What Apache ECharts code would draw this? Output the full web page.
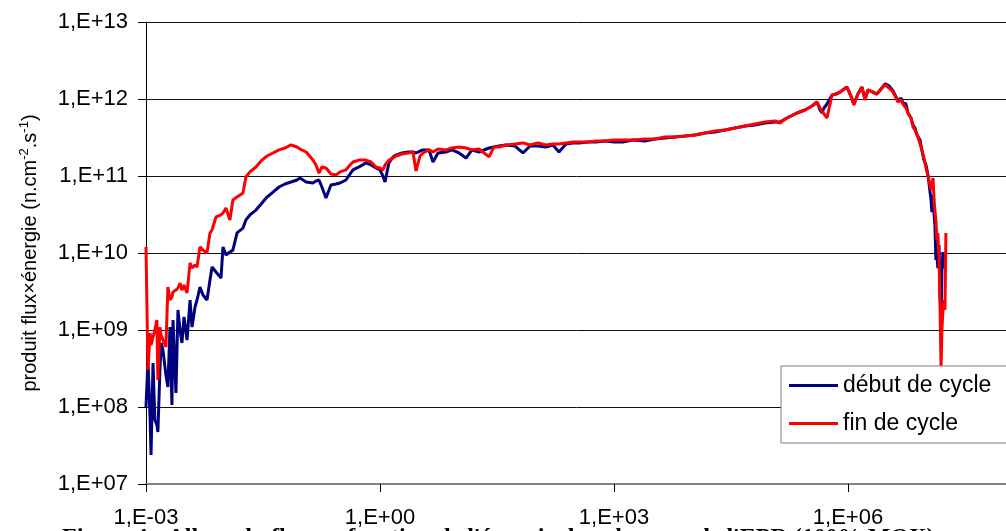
<!DOCTYPE html>
<html>
<head>
<meta charset="utf-8">
<script src="https://cdn.jsdelivr.net/npm/echarts@6/dist/echarts.min.js"></script>
<style>
html,body{margin:0;padding:0;background:#fff;}
#chart{width:1006px;height:531px;}
</style>
</head>
<body>
<div id="chart"></div>
<script>
// Energy (eV)
const energy = [
1.0e-3,1.06e-3,1.13e-3,1.16e-3,1.23e-3,1.30e-3,1.38e-3,1.42e-3,1.51e-3,1.56e-3,
1.65e-3,1.80e-3,1.91e-3,2.03e-3,2.15e-3,2.22e-3,2.42e-3,2.57e-3,2.73e-3,2.89e-3,
3.07e-3,3.36e-3,3.67e-3,3.89e-3,4.25e-3,4.51e-3,4.92e-3,5.38e-3,6.05e-3,6.61e-3,
7.02e-3,7.90e-3,9.15e-3,9.71e-3,1.06e-2,1.19e-2,1.30e-2,1.47e-2,1.75e-2,1.91e-2,
2.15e-2,2.57e-2,3.07e-2,3.56e-2,4.25e-2,5.07e-2,6.05e-2,7.23e-2,8.63e-2,9.43e-2,
0.113,0.138,0.151,0.165,0.180,0.203,0.235,0.273,0.307,0.366,
0.412,0.451,0.538,0.661,0.767,0.889,1.0,1.09,1.16,1.30,
1.47,1.60,1.91,2.29,2.65,2.89,3.26,3.56,4.25,4.78,
5.54,7.02,8.38,10.3,12.7,15.1,18.6,25.0,28.9,33.6,
41.2,53.8,68.1,83.8,106,134,165,197,242,298,
356,464,588,767,1000,1300,1750,2500,3360,4510,
6050,8130,1.09e4,1.47e4,1.97e4,2.65e4,3.56e4,4.78e4,6.42e4,8.63e4,
1.16e5,1.34e5,1.65e5,2.22e5,2.81e5,3.46e5,4.00e5,4.38e5,4.64e5,4.92e5,
5.38e5,6.24e5,7.02e5,7.90e5,9.71e5,1.09e6,1.19e6,1.34e6,1.51e6,1.65e6,
1.80e6,2.09e6,2.35e6,2.65e6,2.98e6,3.36e6,3.78e6,4.38e6,4.78e6,5.07e6,
5.54e6,5.88e6,6.42e6,6.81e6,7.23e6,7.67e6,8.38e6,8.89e6,9.43e6,1.00e7,
1.06e7,1.09e7,1.16e7,1.19e7,1.23e7,1.27e7,1.30e7,1.34e7,1.38e7,1.42e7,
1.47e7,1.51e7,1.56e7,1.60e7,1.65e7,1.70e7,1.75e7,1.80e7
];
// début de cycle
const debut = [
1.00e8,4.07e8,6.78e7,2.38e7,3.72e8,6.78e7,5.83e7,4.73e7,3.03e8,6.78e8,
5.50e8,2.61e8,1.82e8,1.09e9,1.06e8,1.35e9,1.52e8,1.82e9,1.00e9,6.78e8,
1.48e9,7.41e8,2.45e9,1.09e9,1.99e9,2.45e9,3.61e9,2.85e9,2.45e9,4.46e9,
6.58e9,5.66e9,4.73e9,1.20e10,9.42e9,1.03e10,1.09e10,1.82e10,2.11e10,2.69e10,
3.12e10,3.61e10,4.46e10,5.33e10,6.19e10,7.20e10,7.87e10,8.36e10,8.87e10,9.42e10,
8.36e10,8.11e10,8.61e10,8.87e10,7.20e10,5.18e10,7.64e10,7.87e10,8.11e10,8.87e10,
1.06e11,1.20e11,1.31e11,1.48e11,1.39e11,1.27e11,1.20e11,1.00e11,8.36e10,1.48e11,
1.77e11,1.87e11,1.99e11,2.05e11,2.05e11,1.99e11,2.11e11,2.18e11,2.18e11,1.52e11,
1.99e11,2.05e11,2.18e11,1.99e11,1.71e11,2.18e11,2.05e11,2.31e11,2.38e11,2.45e11,
2.53e11,2.45e11,1.99e11,2.45e11,2.45e11,2.38e11,2.53e11,2.05e11,2.61e11,2.69e11,
2.69e11,2.77e11,2.77e11,2.85e11,2.77e11,2.77e11,2.94e11,2.85e11,3.03e11,3.12e11,
3.21e11,3.30e11,3.40e11,3.61e11,3.72e11,3.95e11,4.20e11,4.46e11,4.59e11,4.88e11,
5.02e11,5.02e11,5.66e11,6.58e11,7.20e11,8.11e11,9.14e11,7.20e11,6.58e11,7.64e11,
8.61e11,1.13e12,1.16e12,1.23e12,1.43e12,1.09e12,8.61e11,1.16e12,1.43e12,1.00e12,
1.31e12,1.23e12,1.16e12,1.35e12,1.57e12,1.48e12,1.27e12,9.42e11,1.03e12,8.87e11,
8.61e11,6.58e11,5.66e11,4.59e11,4.20e11,3.40e11,2.94e11,2.11e11,1.61e11,1.39e11,
1.03e11,1.09e11,4.88e10,3.40e10,5.66e10,3.12e10,2.31e10,8.11e9,9.42e9,6.38e9,
1.27e10,2.85e9,1.35e9,6.01e9,1.03e10,6.38e9,8.61e9,9.42e9
];
// fin de cycle
const fin = [
1.20e10,3.03e8,9.14e8,6.38e8,8.11e8,1.00e9,1.35e9,2.24e8,1.09e9,8.61e8,
7.41e8,6.01e8,3.61e9,2.45e9,2.69e9,3.12e9,3.30e9,3.51e9,4.07e9,3.30e9,
3.84e9,3.03e9,7.41e9,6.38e9,6.98e9,6.58e9,1.20e10,1.09e10,1.00e10,1.82e10,
1.99e10,2.94e10,3.12e10,3.30e10,3.84e10,2.69e10,4.88e10,5.33e10,6.01e10,9.70e10,
1.13e11,1.31e11,1.61e11,1.82e11,1.99e11,2.18e11,2.31e11,2.53e11,2.38e11,2.24e11,
2.05e11,1.61e11,1.39e11,1.09e11,1.31e11,1.27e11,1.06e11,1.03e11,1.13e11,1.20e11,
1.39e11,1.52e11,1.61e11,1.61e11,1.52e11,1.31e11,1.27e11,1.20e11,1.39e11,1.61e11,
1.71e11,1.82e11,1.93e11,1.99e11,2.05e11,1.16e11,1.82e11,1.99e11,2.18e11,2.05e11,
2.24e11,2.18e11,2.31e11,2.38e11,2.31e11,2.18e11,2.24e11,1.77e11,2.38e11,2.38e11,
2.53e11,2.61e11,2.69e11,2.53e11,2.69e11,2.53e11,2.61e11,2.61e11,2.69e11,2.77e11,
2.77e11,2.77e11,2.85e11,2.85e11,2.94e11,2.94e11,2.94e11,3.03e11,3.03e11,3.21e11,
3.21e11,3.30e11,3.40e11,3.61e11,3.84e11,3.95e11,4.20e11,4.46e11,4.73e11,5.02e11,
5.18e11,4.88e11,5.66e11,6.58e11,7.20e11,8.11e11,9.14e11,7.64e11,6.98e11,6.58e11,
5.66e11,1.13e12,1.16e12,1.23e12,1.43e12,1.09e12,8.36e11,1.16e12,1.43e12,9.70e11,
1.31e12,1.23e12,1.16e12,1.35e12,1.52e12,1.39e12,1.23e12,9.14e11,9.70e11,8.61e11,
7.64e11,6.58e11,5.66e11,4.33e11,3.95e11,3.51e11,2.61e11,2.18e11,1.71e11,1.27e11,
1.20e11,8.87e10,6.58e10,6.98e10,9.42e10,4.88e10,3.61e10,2.69e10,1.48e10,1.82e10,
8.11e9,2.45e9,3.21e8,1.00e9,1.82e9,2.45e9,1.82e9,1.82e10
];
const seriesNames = ['début de cycle', 'fin de cycle'];
const yAxisTitle = '{a|produit flux×énergie (n.cm}{s|-2}{a|.s}{s|-1}{a|)}';
const caption = "Figure 4 : Allure du flux en fonction de l'énergie dans le cœur de l'EPR (100% MOX)";

function sciLabel(v) {
  const e = Math.round(Math.log10(v));
  const a = Math.abs(e);
  return '1,E' + (e < 0 ? '-' : '+') + (a < 10 ? '0' : '') + a;
}

const FONT = '"Liberation Sans", Arial, sans-serif';
const chart = echarts.init(document.getElementById('chart'), null, {renderer: 'canvas'});
chart.setOption({
  animation: false,
  backgroundColor: '#ffffff',
  textStyle: {fontFamily: FONT},
  grid: {left: 146, top: 22, width: 936, height: 462, containLabel: false, outerBoundsMode: 'none'},
  legend: {
    orient: 'vertical',
    left: 781, top: 366,
    data: seriesNames.map(n => ({name: n, icon: 'rect'})),
    itemWidth: 49, itemHeight: 3, itemGap: 15,
    padding: [8, 40, 8, 8],
    backgroundColor: '#ffffff',
    borderColor: '#808080', borderWidth: 1, borderRadius: 0,
    textStyle: {fontFamily: FONT, fontSize: 23, color: '#000', lineHeight: 22}
  },
  xAxis: {
    type: 'log', logBase: 1000, min: 1e-3, max: 1e9,
    axisLine: {show: true, lineStyle: {color: '#808080', width: 2}},
    axisTick: {show: true, length: 8, lineStyle: {color: '#000', width: 1}},
    minorTick: {show: false},
    splitLine: {show: false},
    axisLabel: {formatter: sciLabel, fontFamily: FONT, fontSize: 22, color: '#000', margin: 23}
  },
  yAxis: {
    type: 'log', logBase: 10, min: 1e7, max: 1e13,
    name: yAxisTitle,
    nameLocation: 'middle', nameRotate: 90, nameGap: 104,
    nameTextStyle: {
      color: '#000',
      rich: {
        a: {fontFamily: FONT, fontSize: 20, color: '#000', lineHeight: 24},
        s: {fontFamily: FONT, fontSize: 13, color: '#000', lineHeight: 24, verticalAlign: 'top'}
      }
    },
    axisLine: {show: true, lineStyle: {color: '#000', width: 1}},
    axisTick: {show: true, length: 8, lineStyle: {color: '#000', width: 1}},
    splitLine: {show: true, lineStyle: {color: '#111', width: 1}},
    axisLabel: {formatter: sciLabel, fontFamily: FONT, fontSize: 22, color: '#000', margin: 18}
  },
  graphic: [{
    type: 'text', left: 62, top: 526, silent: true,
    style: {text: caption, font: 'bold 24px "Liberation Serif", "Times New Roman", serif', fill: '#000'}
  }],
  series: [
    {
      name: seriesNames[0], type: 'line', showSymbol: false, symbol: 'none',
      color: '#000080',
      lineStyle: {color: '#000080', width: 3},
      data: energy.map((e, i) => [e, debut[i]])
    },
    {
      name: seriesNames[1], type: 'line', showSymbol: false, symbol: 'none',
      color: '#ff0000',
      lineStyle: {color: '#ff0000', width: 3},
      data: energy.map((e, i) => [e, fin[i]])
    }
  ]
});
</script>
</body>
</html>
